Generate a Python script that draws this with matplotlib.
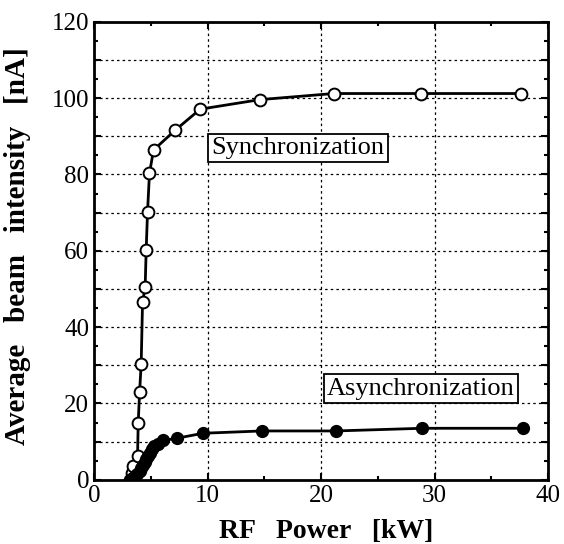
import matplotlib
matplotlib.use("Agg")
import matplotlib.pyplot as plt
from matplotlib.ticker import MultipleLocator, FuncFormatter

# === Datos ===
sync_power = [3.17, 3.32, 3.46, 3.82, 3.88, 4.0, 4.14, 4.26, 4.49, 4.58, 4.70,
              4.87, 5.23, 7.14, 9.34, 14.6, 21.1, 28.8, 37.6]
sync_current = [0.0, 1.7, 3.5, 6.3, 15.0, 23.0, 30.3, 46.5, 50.4, 60.2, 70.2,
                80.3, 86.4, 91.6, 97.1, 99.6, 101.2, 101.2, 101.2]

async_power = [3.2, 3.4, 3.6, 3.8, 4.0, 4.15, 4.3, 4.45, 4.6, 4.75, 4.9, 5.1,
               5.3, 5.6, 6.1, 7.3, 9.6, 14.8, 21.3, 28.9, 37.8]
async_current = [0.2, 0.5, 1.0, 1.6, 2.3, 3.0, 3.8, 4.6, 5.5, 6.3, 7.1, 8.0,
                 8.8, 9.4, 10.3, 10.9, 12.2, 12.8, 12.8, 13.5, 13.5]

plt.rcParams["font.family"] = ["Liberation Serif", "DejaVu Serif"]

fig = plt.figure(figsize=(5.64, 5.44), dpi=100)
ax = fig.add_axes([0.167, 0.118, 0.805, 0.842])

ax.plot(sync_power, sync_current, "-o", color="black", lw=2.0,
        markersize=8.5, markerfacecolor="white", markeredgewidth=1.4, zorder=3)
ax.plot(async_power, async_current, "-o", color="black", lw=2.0,
        markersize=8.5, markerfacecolor="black", markeredgewidth=1.0, zorder=3)

ax.set_xlim(0, 40)
ax.set_ylim(0, 120)
ax.xaxis.set_major_locator(MultipleLocator(10))
ax.xaxis.set_minor_locator(MultipleLocator(5))
ax.yaxis.set_major_locator(MultipleLocator(10))
ax.yaxis.set_minor_locator(MultipleLocator(5))
ax.yaxis.set_major_formatter(
    FuncFormatter(lambda v, p: "%d" % v if int(round(v)) % 20 == 0 else ""))

ax.tick_params(which="both", direction="in", top=True, right=True,
               labelsize=18, width=1.5)
ax.tick_params(which="major", length=5)
ax.tick_params(which="minor", length=3)
for s in ax.spines.values():
    s.set_linewidth(2)

ax.grid(True, which="major", linestyle=(0, (2, 2.5)), color="black", lw=0.9)

ax.set_xlabel("RF   Power   [kW]", fontsize=20, fontweight="bold")
ax.xaxis.set_label_coords(0.511, -0.085)
ax.set_ylabel("Average   beam   intensity   [nA]", fontsize=21,
              fontweight="bold")
ax.yaxis.set_label_coords(-0.139, 0.51)

box = dict(boxstyle="square,pad=0.12", facecolor="white", edgecolor="black",
           lw=1.3)
ax.text(17.97, 86.9, "Synchronization", fontsize=19, ha="center",
        va="center", bbox=box, zorder=4)
ax.text(28.8, 23.9, "Asynchronization", fontsize=19, ha="center",
        va="center", bbox=box, zorder=4)

fig.savefig("out.png", dpi=100)
